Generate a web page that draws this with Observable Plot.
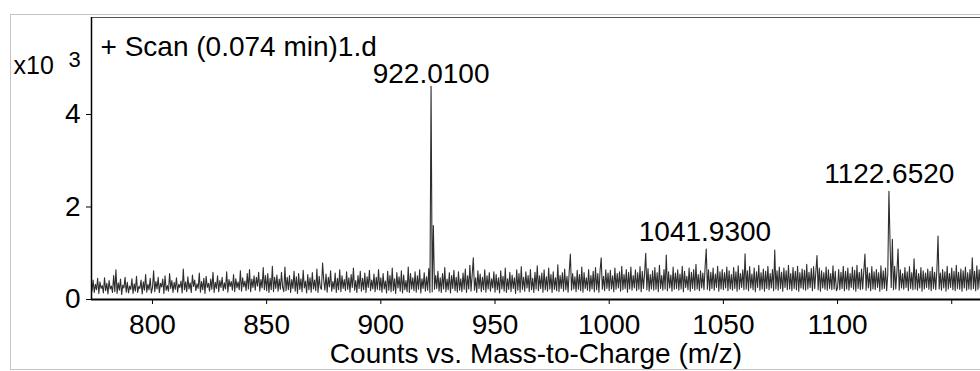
<!DOCTYPE html>
<html><head><meta charset="utf-8">
<script src="https://cdn.jsdelivr.net/npm/d3@7"></script>
<script src="https://cdn.jsdelivr.net/npm/@observablehq/plot@0.6"></script>
<style>
html,body{margin:0;padding:0;background:#fff;overflow:hidden}
#wrap{position:relative;width:980px;height:371px;overflow:hidden}
#border{position:absolute;left:10px;top:14px;width:1000px;height:356px;border:1px solid #c4c4c4;border-right:none;box-sizing:border-box}
#chart{position:absolute;left:0;top:0}
</style></head><body>
<div id="wrap"><div id="border"></div><div id="chart"></div></div>
<script>
// ---- data ----
const segmentStarts = [773.5, 800, 850, 900, 950, 1000, 1050, 1100];
const sampleStep = 0.5; // m/z between profile samples
const counts773 = [180,420,150,330,210,460,130,380,240,300,
  140,470,190,350,120,410,230,290,150,520,
  170,640,130,360,200,440,110,310,250,480,
  160,370,140,290,220,450,130,340,180,500,
  150,280,240,420,120,380,200,540,160,330,
  210,460,140];
const counts800 = [250,620,170,390,230,480,150,350,270,440,
  130,510,200,300,180,560,240,410,150,370,
  220,470,160,330,260,400,140,660,210,380,
  170,490,230,360,150,530,280,420,190,340,
  240,570,160,390,210,460,130,500,260,350,
  180,440,220,590,150,370,240,510,170,410,
  260,480,190,360,230,600,160,430,280,390,
  200,540,170,450,250,380,210,620,180,470,
  270,400,190,560,230,650,170,440,260,510,
  200,480,290,590,180,430,250,690,210,520];
const counts850 = [190,560,150,460,210,720,170,480,240,530,
  180,440,220,590,260,170,700,190,480,210,
  520,150,430,240,610,180,490,130,560,220,
  450,170,630,250,400,140,540,210,470,160,
  580,230,420,190,660,150,500,260,220,790,
  420,200,550,160,480,270,620,180,390,230,
  570,150,460,210,640,170,510,240,430,190,
  600,220,470,160,540,260,680,200,410,150,
  520,240,610,180,460,210,570,150,490,260,
  630,190,420,230,550,170,480,220,650,200];
const counts900 = [470,160,560,230,400,140,610,200,520,170,
  680,190,450,130,580,250,490,180,620,140,
  530,210,410,170,700,150,560,230,470,190,
  600,160,510,220,640,140,450,240,580,180,
  490,200,670,150,4610,170,1600,220,520,240,
  610,180,470,150,560,230,690,170,440,210,
  580,140,520,240,630,190,480,160,600,200,
  450,170,570,220,660,150,510,230,740,180,
  530,900,200,470,150,620,240,550,170,480,
  210,640,160,510,230,580,180,450,250,600];
const counts950 = [160,540,210,470,140,620,230,500,180,680,
  150,450,220,590,170,530,240,470,130,640,
  200,560,160,710,220,480,180,600,250,520,
  170,650,210,460,150,590,230,730,190,510,
  240,570,160,640,210,490,180,680,230,540,
  150,600,220,470,190,750,170,520,240,580,
  180,660,210,500,160,610,980,200,560,230,
  490,170,630,220,540,190,700,160,580,240,
  470,200,650,180,520,230,610,170,690,210,
  560,160,620,900,220,500,190,640,240,570];
const counts1000 = [190,630,230,510,170,680,220,560,250,600,
  180,720,210,540,240,650,160,590,230,700,
  200,520,250,640,190,580,220,710,170,610,
  240,560,1000,210,670,180,540,230,620,200,
  690,220,580,170,740,240,520,200,650,230,
  960,190,600,250,530,180,700,220,570,240,
  640,200,550,230,720,170,610,260,500,210,
  680,180,590,240,650,200,760,230,540,190,
  620,250,570,210,700,1090,220,640,190,590,
  240,680,200,550,260,720,180,600,230,650];
const counts1050 = [210,580,250,700,190,620,230,540,200,690,
  240,600,180,730,220,560,260,640,210,990,
  230,620,190,710,250,550,210,680,170,600,
  260,740,200,580,230,660,180,610,240,720,
  210,560,250,650,190,1070,230,620,200,700,
  240,590,180,680,260,620,210,740,230,560,
  190,690,240,610,210,720,180,580,250,660,
  220,630,200,760,230,590,260,670,190,710,
  240,600,950,210,680,180,620,250,580,220,
  700,200,640,240,560,210,730,230,610,190];
const counts1100 = [250,650,210,590,240,720,190,610,230,680,
  200,560,260,700,220,630,180,740,240,590,
  210,660,230,620,980,200,690,250,570,190,
  710,230,600,210,650,260,580,180,730,220,
  620,240,680,190,550,2340,1200,260,1300,210,
  720,230,610,1090,200,640,250,560,220,690,
  260,600,190,710,240,580,210,880,230,650,
  200,560,250,690,180,620,230,570,260,660,
  220,610,190,700,240,590,210,640,1370,230,
  570,200,650,250,600,180,720,230,560,260,
  680,210,610,190,740,240,590,220,660,180,
  620,250,700,200,580,230,650,210,900,240,
  610,190,730,220,640,250,580];
const segmentCounts = [counts773, counts800, counts850, counts900, counts950, counts1000, counts1050, counts1100];

const peakMz = [922.01, 1041.93, 1122.652];
const peakCounts = [4610, 1090, 2340];
const peakLabels = ["922.0100", "1041.9300", "1122.6520"];

const xTicks = [800, 850, 900, 950, 1000, 1050, 1100, 1150];
const xTickLabels = ["800", "850", "900", "950", "1000", "1050", "1100", ""];
const yTicks = [0, 2000, 4000];
const yTickLabels = ["0", "2", "4"];
const xDomain = [773.3, 1162.6];
const yDomain = [0, 6097];

const titleText = "+ Scan (0.074 min)1.d";
const xLabelText = "Counts vs. Mass-to-Charge (m/z)";
const yMultiplier = "x10";
const yExponent = "3";

// ---- build tables ----
const spectrum = [];
segmentCounts.forEach((arr, s) => {
  arr.forEach((c, i) => spectrum.push({mz: segmentStarts[s] + i * sampleStep, counts: c}));
});
const peaks = peakMz.map((m, i) => ({mz: m, counts: peakCounts[i], label: peakLabels[i]}));

const font = "'Liberation Sans', Arial, Helvetica, sans-serif";

const chart = Plot.plot({
  width: 980,
  height: 371,
  marginLeft: 91,
  marginRight: 0,
  marginTop: 17,
  marginBottom: 72,
  style: {fontFamily: font, fontSize: "28px", color: "#000", background: "transparent", overflow: "hidden"},
  x: {domain: xDomain, ticks: xTicks, tickFormat: d => xTickLabels[xTicks.indexOf(d)], tickSize: 5, tickPadding: 10, label: null},
  y: {domain: yDomain, ticks: yTicks, tickFormat: d => yTickLabels[yTicks.indexOf(d)], tickSize: 5, tickPadding: 6, label: null},
  marks: [
    Plot.line(spectrum, {x: "mz", y: "counts", stroke: "#2e2e2e", strokeWidth: 1.1, clip: true}),
    Plot.ruleY([yDomain[0]], {stroke: "#000", strokeWidth: 2}),
    Plot.ruleY([yDomain[1]], {stroke: "#555", strokeWidth: 1.2}),
    Plot.ruleX([xDomain[0]], {stroke: "#000", strokeWidth: 1.5}),
    Plot.text(peaks.slice(0, 1), {x: "mz", y: "counts", text: "label", dy: -3, lineAnchor: "bottom", fontSize: 28, fill: "#000"}),
    Plot.text(peaks.slice(1), {x: "mz", y: "counts", text: "label", dy: -8, lineAnchor: "bottom", fontSize: 28, fill: "#000"}),
    Plot.text([titleText], {frameAnchor: "top-left", dx: 9, dy: 38, lineAnchor: "bottom", textAnchor: "start", fontSize: 28, fill: "#000"}),
    Plot.text([yMultiplier], {frameAnchor: "top-left", dx: -78, dy: 56, lineAnchor: "bottom", textAnchor: "start", fontSize: 25, fill: "#000"}),
    Plot.text([yExponent], {frameAnchor: "top-left", dx: -23, dy: 49, lineAnchor: "bottom", textAnchor: "start", fontSize: 22, fill: "#000"}),
    Plot.text([xLabelText], {frameAnchor: "bottom", dy: 63, lineAnchor: "bottom", fontSize: 28, fill: "#000"})
  ]
});
document.getElementById("chart").appendChild(chart);
</script>
</body></html>
